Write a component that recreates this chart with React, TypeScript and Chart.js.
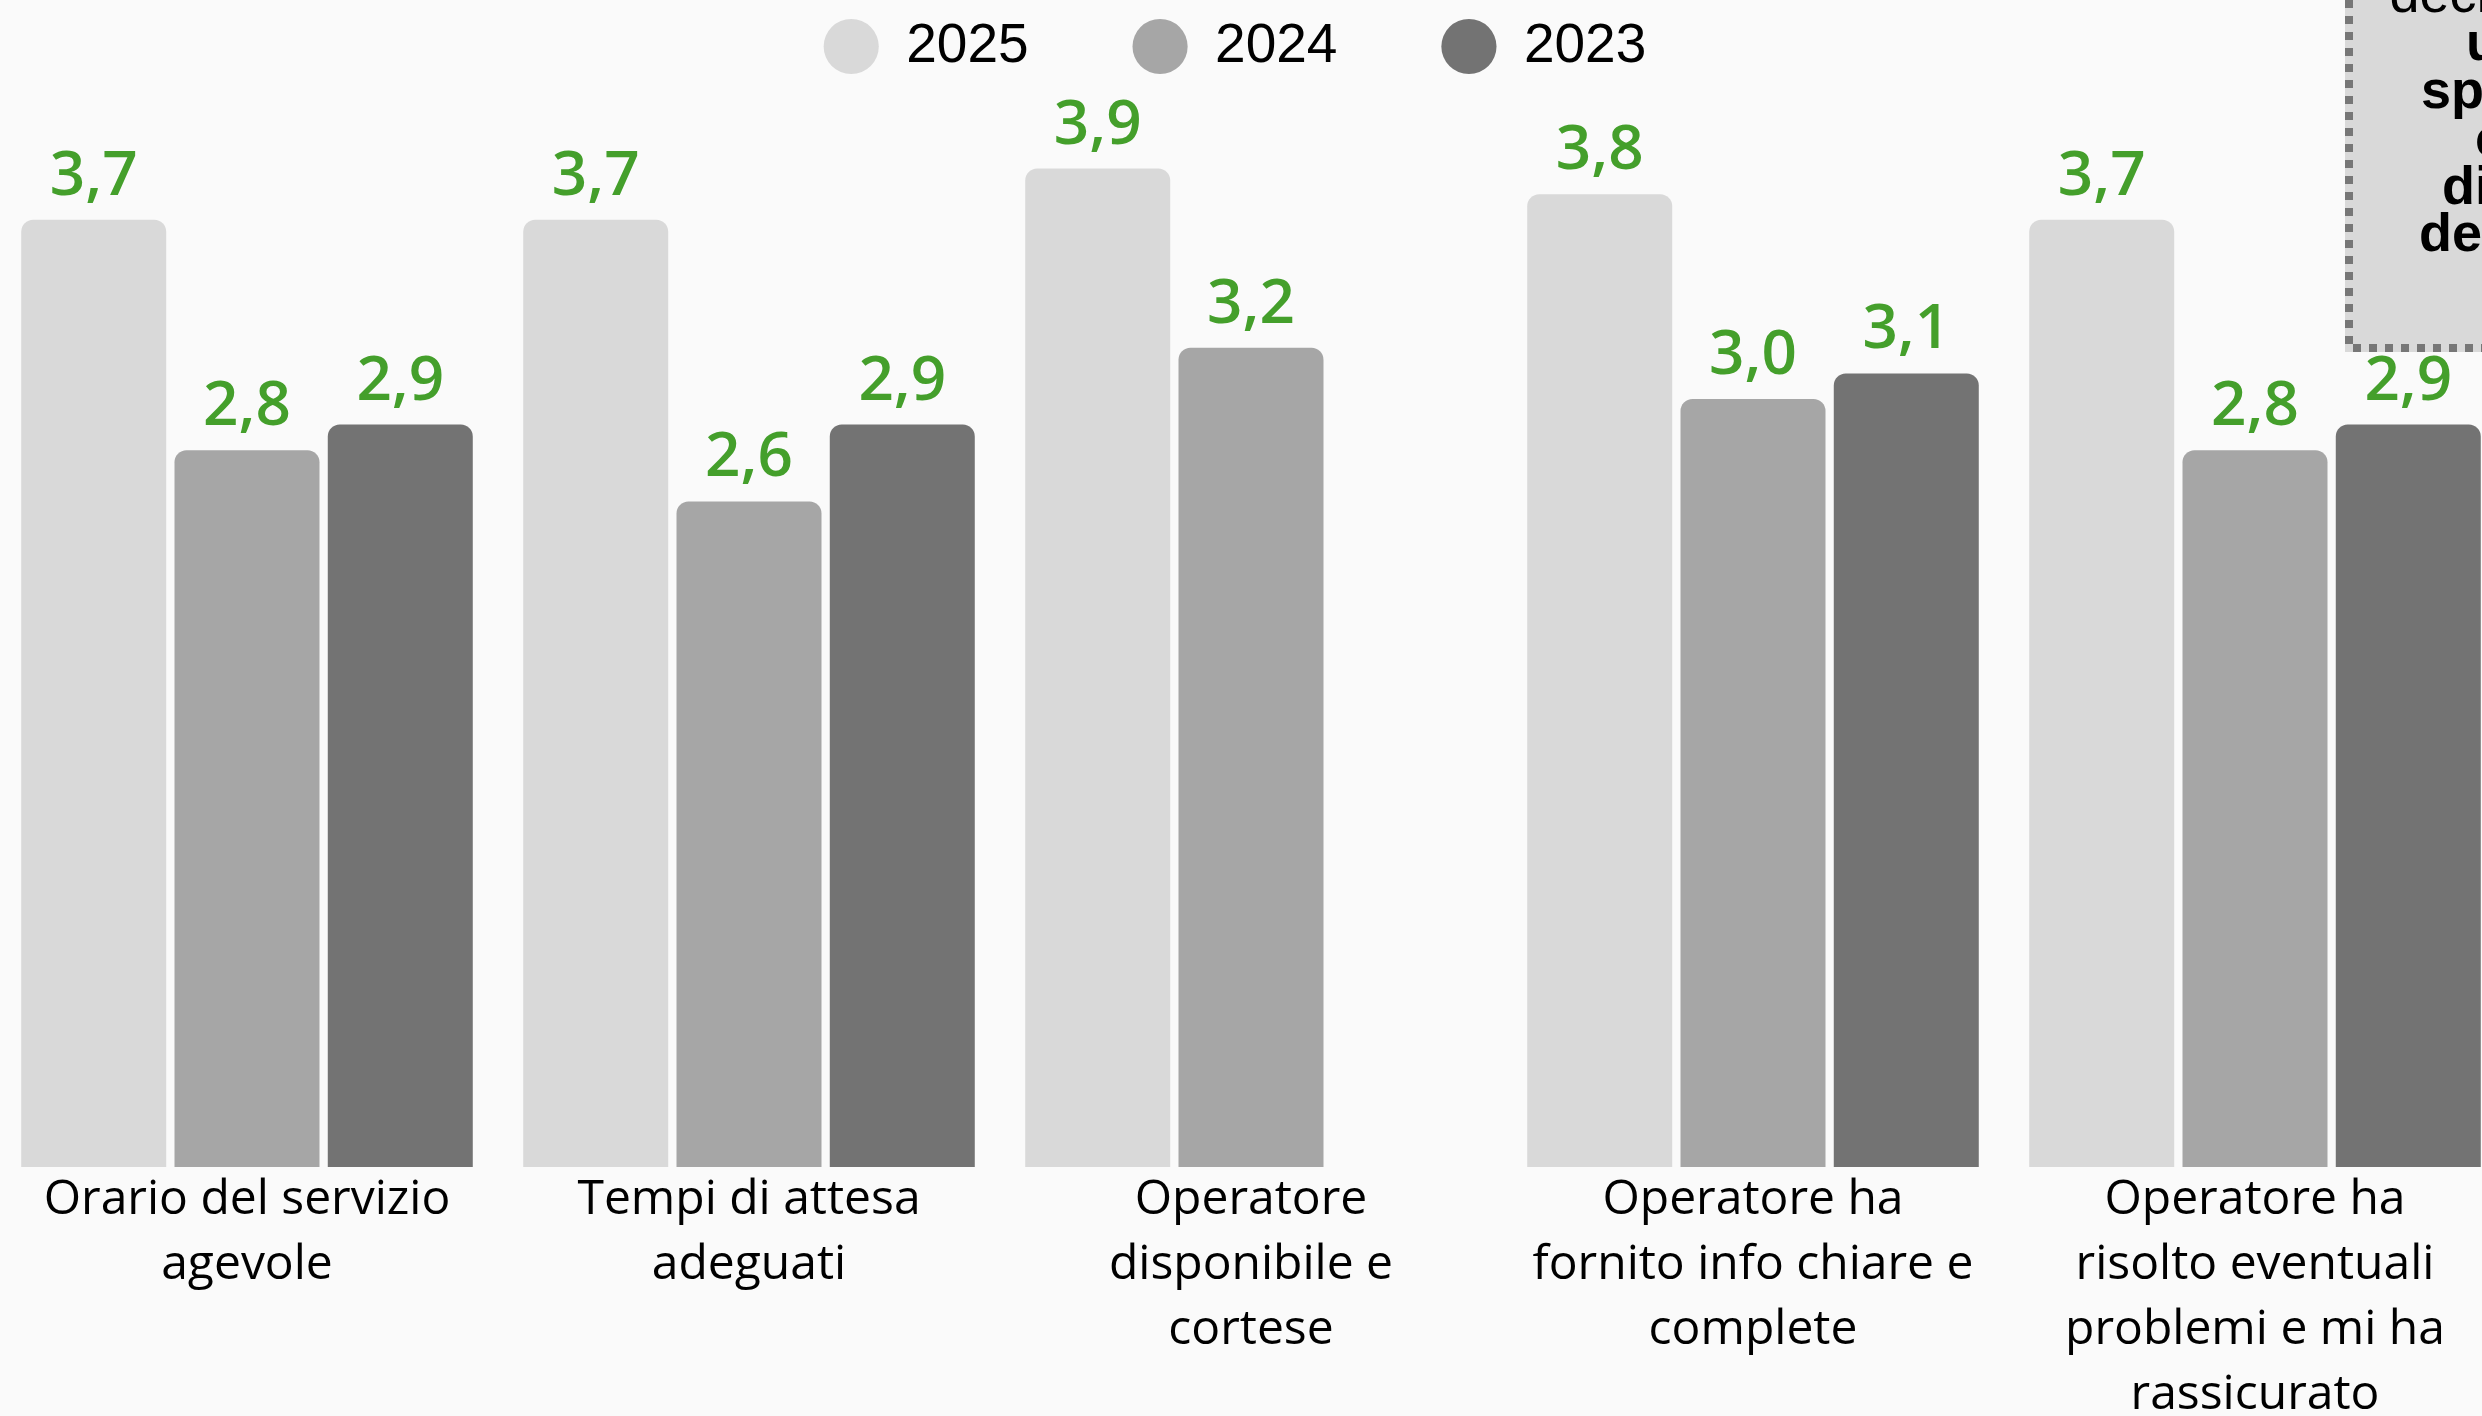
import React, { useEffect, useRef } from "react";
import { Chart, registerables } from "chart.js";

Chart.register(...registerables);

// ---- data ----
const categories: string[][] = [
  ["Orario del servizio", "agevole"],
  ["Tempi di attesa", "adeguati"],
  ["Operatore", "disponibile e", "cortese"],
  ["Operatore ha", "fornito info chiare e", "complete"],
  ["Operatore ha", "risolto eventuali", "problemi e mi ha", "rassicurato"],
];
const seriesNames = ["2025", "2024", "2023"];
const values2025: (number | null)[] = [3.7, 3.7, 3.9, 3.8, 3.7];
const values2024: (number | null)[] = [2.8, 2.6, 3.2, 3.0, 2.8];
const values2023: (number | null)[] = [2.9, 2.9, null, 3.1, 2.9];
const seriesColors = ["#d9d9d9", "#a6a6a6", "#737373"];
const yMin = 0;
const yMax = 4.2305;
const noteLines = ["decrescente", "unica", "specifica", "cosa", "diversa", "dell'anno"];

const valueLabelPlugin = {
  id: "valueLabels",
  afterDatasetsDraw(chart: any) {
    const ctx = chart.ctx;
    ctx.save();
    ctx.font = "600 62px 'Open Sans'";
    ctx.fillStyle = "#449f2b";
    ctx.textAlign = "center";
    ctx.textBaseline = "alphabetic";
    chart.data.datasets.forEach((ds: any, i: number) => {
      const meta = chart.getDatasetMeta(i);
      if (meta.hidden) return;
      meta.data.forEach((el: any, j: number) => {
        const v = ds.data[j];
        if (v === null || v === undefined) return;
        ctx.fillText(Number(v).toFixed(1).replace(".", ","), el.x, el.y - 25);
      });
    });
    ctx.restore();
  },
};

export default function App() {
  const ref = useRef<HTMLCanvasElement>(null);

  useEffect(() => {
    if (!ref.current) return;
    const seriesData = [values2025, values2024, values2023];
    const chart = new Chart(ref.current, {
      type: "bar",
      data: {
        labels: categories,
        datasets: seriesNames.map((name, i) => ({
          label: name,
          data: seriesData[i],
          backgroundColor: seriesColors[i],
          borderWidth: 0,
          borderRadius: 12,
          borderSkipped: "bottom",
          barPercentage: 0.946,
          categoryPercentage: 0.916,
          pointStyle: "circle",
        })) as any,
      },
      options: {
        responsive: false,
        animation: false,
        devicePixelRatio: 1,
        layout: { padding: { top: -85, left: 0, right: 0, bottom: 0 } },
        plugins: {
          legend: {
            position: "top",
            labels: {
              usePointStyle: true,
              pointStyle: "circle",
              boxWidth: 55,
              boxHeight: 39,
              padding: 104,
              color: "#000000",
              font: { family: "'Liberation Sans', Arial, sans-serif", size: 55 },
            },
          },
          tooltip: { enabled: false },
        },
        scales: {
          x: {
            offset: true,
            grid: { display: false, drawTicks: false },
            border: { display: false },
            ticks: {
              color: "#000000",
              padding: 1,
              maxRotation: 0,
              minRotation: 0,
              autoSkip: false,
              font: { family: "'Open Sans', sans-serif", size: 48, lineHeight: 65 / 48 },
            },
          },
          y: {
            min: yMin,
            max: yMax,
            display: true,
            grid: { display: false, drawTicks: false },
            border: { display: false },
            ticks: { display: false },
            afterFit: (scale: any) => {
              scale.width = 32;
            },
          },
        },
      } as any,
      plugins: [valueLabelPlugin],
    });
    return () => chart.destroy();
  }, []);

  return (
    <div
      style={{
        position: "fixed",
        left: 0,
        top: 0,
        width: 2482,
        height: 1416,
        overflow: "hidden",
        background: "#fafafa",
      }}
    >
      <canvas
        ref={ref}
        width={2542}
        height={1429}
        style={{ position: "absolute", left: -36, top: 0, width: 2542, height: 1429 }}
      />
      <div
        style={{
          position: "absolute",
          left: 2345,
          top: -150,
          width: 383,
          height: 502,
          background: "#d9d9d9",
        }}
      >
        <svg width={383} height={502} style={{ position: "absolute", left: 0, top: 0 }}>
          <rect
            x={4}
            y={4}
            width={375}
            height={494}
            fill="none"
            stroke="#777777"
            strokeWidth={8}
            strokeDasharray="8 8"
          />
        </svg>
        <div
          style={{
            position: "absolute",
            left: 0,
            top: 120.4,
            width: 383,
            textAlign: "center",
            fontFamily: "'Liberation Sans', Arial, sans-serif",
            fontSize: 54,
            lineHeight: "47.8px",
            color: "#000",
            whiteSpace: "nowrap",
          }}
        >
          {noteLines.map((t, i) => (
            <div key={i} style={{ fontWeight: i === 0 ? 400 : 700 }}>
              {t}
            </div>
          ))}
        </div>
      </div>
    </div>
  );
}
